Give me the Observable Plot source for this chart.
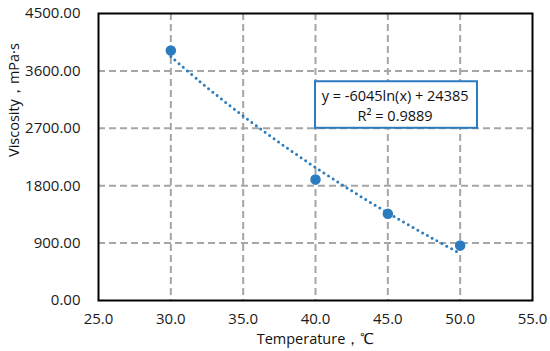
<!DOCTYPE html>
<html>
<head>
<meta charset="utf-8">
<script src="https://cdn.jsdelivr.net/npm/d3@7"></script>
<script src="https://cdn.jsdelivr.net/npm/@observablehq/plot@0.6"></script>
<style>
  html, body { margin: 0; padding: 0; background: #fff; }
  #chart svg { display: block; }
</style>
</head>
<body>
<div id="chart"></div>
<script>
// Measured data points
const temperature = [30, 40, 45, 50];
const viscosity = [3920, 1897, 1359, 862];

// Trendline samples
const trendX = [30, 32, 34, 36, 38, 40, 42, 44, 46, 48, 50];
const trendY = [3825, 3435, 3068, 2723, 2396, 2086, 1791, 1510, 1241, 984, 737];

// Axis ticks
const xTicks = [25, 30, 35, 40, 45, 50, 55];
const yTicks = [0, 900, 1800, 2700, 3600, 4500];
const xGrid = [30, 35, 40, 45, 50];
const yGrid = [900, 1800, 2700, 3600];

// Annotation text and box (data coordinates)
const eqLines = ["y = -6045ln(x) + 24385", "R² = 0.9889"];
const eqLineY = [3200, 2885];
const eqX = 45.5;
const eqBox = [{x1: 40, x2: 51.2, y1: 2700, y2: 3430}];

const blue = "#2b7bbf";
const font = "'Open Sans', sans-serif";

const points = temperature.map((t, i) => ({t, v: viscosity[i]}));
const trend = trendX.map((t, i) => ({t, v: trendY[i]}));
const eq = eqLines.map((s, i) => ({s, x: eqX, y: eqLineY[i]}));

const chart = Plot.plot({
  width: 550,
  height: 351,
  marginLeft: 98,
  marginRight: 18,
  marginTop: 13,
  marginBottom: 51,
  style: {fontFamily: font, fontSize: "15px", color: "#1a1a1a", background: "#fff"},
  x: {domain: [25, 55]},
  y: {domain: [0, 4500]},
  marks: [
    Plot.gridX(xGrid, {stroke: "#a6a6a6", strokeOpacity: 1, strokeWidth: 2, strokeDasharray: "7,4"}),
    Plot.gridY(yGrid, {stroke: "#a6a6a6", strokeOpacity: 1, strokeWidth: 2, strokeDasharray: "7,4"}),
    Plot.axisX(xTicks, {tickSize: 0, tickPadding: 13, tickFormat: d => d.toFixed(1), fontSize: 15, label: null}),
    Plot.axisY(yTicks, {tickSize: 0, tickPadding: 18, tickFormat: d => d.toFixed(2), fontSize: 15, label: null}),
    Plot.line(trend, {x: "t", y: "v", stroke: blue, strokeWidth: 3, strokeDasharray: "0,5.5", strokeLinecap: "round", curve: "catmull-rom"}),
    Plot.dot(points, {x: "t", y: "v", r: 4.5, fill: blue, stroke: blue}),
    Plot.rect(eqBox, {x1: "x1", x2: "x2", y1: "y1", y2: "y2", fill: "white", stroke: blue, strokeWidth: 2}),
    Plot.text(eq, {x: "x", y: "y", text: "s", fontSize: 14.5, fill: "#111"}),
    Plot.frame({stroke: "#000", strokeWidth: 2}),
    Plot.text(["Temperature，℃"], {frameAnchor: "bottom", lineAnchor: "middle", dy: 39, fontSize: 14.5, fill: "#111"}),
    Plot.text(["Viscosity，mPa·s"], {frameAnchor: "left", dx: -84, rotate: -90, fontSize: 14.5, fill: "#111"})
  ]
});
document.getElementById("chart").appendChild(chart);
</script>
</body>
</html>
